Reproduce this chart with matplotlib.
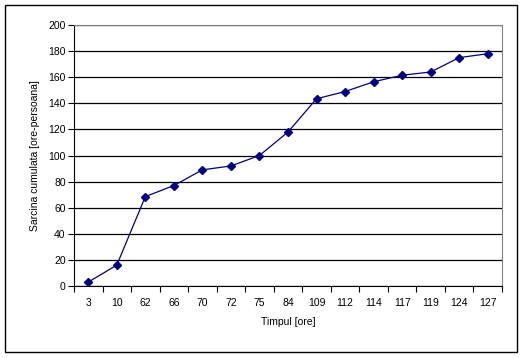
import matplotlib
matplotlib.use('Agg')
import matplotlib.pyplot as plt
from matplotlib.patches import Rectangle
import numpy as np

# datos
ore = ['3', '10', '62', '66', '70', '72', '75', '84', '109', '112', '114', '117', '119', '124', '127']
sarcina = [3, 16, 68.5, 77, 89, 92, 100, 118, 143.5, 149, 156.5, 161.5, 164, 175, 178]
y_ticks = [0, 20, 40, 60, 80, 100, 120, 140, 160, 180, 200]

plt.rcParams['font.family'] = ['Liberation Sans', 'DejaVu Sans']

fig = plt.figure(figsize=(5.25, 3.58), dpi=100)
ax = fig.add_axes([74 / 525, 1 - 286 / 358, 428 / 525, 261 / 358])

# marco exterior
fig.patches.append(Rectangle((5 / 525, 1 - 352 / 358), 512 / 525, 347 / 358,
                             transform=fig.transFigure, fill=False,
                             edgecolor='black', linewidth=1))

x = np.arange(len(ore))
ax.plot(x, sarcina, color='#000080', linewidth=0.9, marker='D', markersize=4,
        markerfacecolor='#000080', markeredgecolor='#000080')

ax.set_xlim(-0.5, len(ore) - 0.5)
ax.set_ylim(0, 200)
ax.set_yticks(y_ticks)
ax.set_xticks(x)
ax.set_xticklabels(ore)
ax.set_xticks(np.arange(-0.5, len(ore), 1), minor=True)
ax.tick_params(axis='x', which='major', length=0, labelsize=7.5, pad=9)
ax.tick_params(axis='x', which='minor', length=4, direction='out', width=0.8)
ax.tick_params(axis='y', length=4, direction='out', width=0.8, labelsize=7.5, pad=2)

ax.grid(axis='y', color='black', linewidth=0.9)
ax.set_axisbelow(True)
for s in ['top', 'right']:
    ax.spines[s].set_color('#808080')
for s in ['left', 'bottom']:
    ax.spines[s].set_color('black')

ax.set_xlabel('Timpul [ore]', fontsize=7.5, labelpad=6)
ax.set_ylabel('Sarcina cumulata [ore-persoana]', fontsize=7.5, labelpad=6)

fig.savefig('out.png', dpi=100)
